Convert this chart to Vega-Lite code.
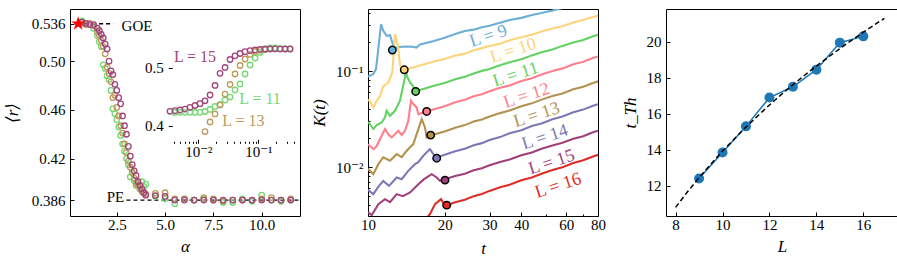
{
  "$schema": "https://vega.github.io/schema/vega-lite/v6.json",
  "background": "white",
  "padding": {"left": 2, "top": 5, "right": 4, "bottom": 2},
  "config": {
    "font": "Liberation Serif, DejaVu Serif",
    "view": {"stroke": "black", "strokeWidth": 1},
    "axis": {
      "domain": false, "grid": false, "tickColor": "black", "tickSize": -4, "tickWidth": 1,
      "labelFont": "Liberation Serif, DejaVu Serif", "labelFontSize": 15, "labelColor": "black", "labelPadding": 9,
      "labelFlush": false, "labelOverlap": false,
      "titleFont": "Liberation Serif, DejaVu Serif", "titleFontSize": 17, "titleFontWeight": "normal", "titleFontStyle": "italic", "titleColor": "black",
      "zindex": 1
    },
    "axisX": {"titlePadding": 6, "labelPadding": 5},
    "axisY": {"titlePadding": 7}
  },
  "datasets": {
    "p1": [
      {"L": "L11", "a": [0.7,0.9,1.1,1.3,1.5,1.6,1.7,1.8,1.9,2.0,2.1,2.2,2.3,2.4,2.5,2.6,2.7,2.8,2.9,3.0,3.1,3.2,3.3,3.4,3.5,3.6,3.7,3.8,3.9,4.0,4.5,5.0,5.5,6.0,6.5,7.0,7.5,8.0,8.5,9.0,9.5,10.0,10.5,11.0,11.5],
       "r": [0.533,0.531,0.530,0.527,0.521,0.516,0.512,0.497,0.494,0.488,0.485,0.476,0.461,0.457,0.452,0.446,0.439,0.432,0.426,0.420,0.415,0.405,0.408,0.402,0.398,0.400,0.396,0.401,0.397,0.399,0.389,0.387,0.383,0.387,0.386,0.387,0.386,0.384,0.384,0.387,0.385,0.390,0.386,0.385,0.386]},
      {"L": "L13", "a": [0.7,0.9,1.1,1.3,1.5,1.6,1.7,1.8,1.9,2.0,2.1,2.2,2.3,2.4,2.5,2.6,2.7,2.8,2.9,3.0,3.1,3.2,3.3,3.4,3.5,3.6,3.7,3.8,3.9,4.0,4.5,5.0,5.5,6.0,6.5,7.0,7.5,8.0,8.5,9.0,9.5,10.0,10.5,11.0,11.5],
       "r": [0.531,0.530,0.531,0.529,0.524,0.521,0.517,0.512,0.506,0.495,0.490,0.483,0.470,0.472,0.462,0.455,0.447,0.441,0.432,0.425,0.418,0.413,0.409,0.404,0.400,0.398,0.395,0.393,0.392,0.391,0.3915,0.392,0.387,0.387,0.386,0.388,0.387,0.385,0.386,0.386,0.386,0.387,0.388,0.386,0.387]},
      {"L": "L15", "a": [0.7,0.9,1.1,1.3,1.5,1.6,1.7,1.8,1.9,2.0,2.1,2.2,2.3,2.4,2.5,2.6,2.7,2.8,2.9,3.0,3.1,3.2,3.3,3.4,3.5,3.6,3.7,3.8,3.9,4.0,4.5,5.0,5.5,6.0,6.5,7.0,7.5,8.0,8.5,9.0,9.5,10.0,10.5,11.0,11.5],
       "r": [0.532,0.531,0.530,0.530,0.527,0.525,0.522,0.519,0.514,0.510,0.500,0.492,0.489,0.481,0.476,0.470,0.465,0.455,0.447,0.440,0.430,0.422,0.415,0.410,0.406,0.401,0.398,0.395,0.392,0.390,0.3897,0.389,0.386,0.386,0.386,0.386,0.386,0.386,0.386,0.386,0.386,0.386,0.386,0.386,0.386]}
    ],
    "refl": [{"a": 0.5, "a2": 2.32, "r": 0.5307}, {"a": 3.0, "a2": 11.98, "r": 0.386}],
    "reflab": [{"a": 2.75, "r": 0.5285, "label": "GOE"}, {"a": 1.98, "r": 0.3885, "label": "PE"}],
    "star": [{"a": 0.5, "r": 0.5307}],
    "p1in": [
      {"x": 0.003375, "L15": 0.4250},
      {"x": 0.004088, "L15": 0.4260, "L11": 0.4229},
      {"x": 0.004955, "L15": 0.4272, "L11": 0.4232},
      {"x": 0.006003, "L15": 0.4289, "L11": 0.4232},
      {"x": 0.007272, "L15": 0.4319, "L11": 0.4232},
      {"x": 0.00881, "L15": 0.4350, "L11": 0.4229},
      {"x": 0.01067, "L15": 0.4381, "L11": 0.4232},
      {"x": 0.01293, "L15": 0.4432, "L11": 0.4246, "L13": 0.3899},
      {"x": 0.01567, "L15": 0.4532, "L11": 0.4281, "L13": 0.4064},
      {"x": 0.01898, "L15": 0.4697, "L11": 0.4333, "L13": 0.4203},
      {"x": 0.023, "L15": 0.4908, "L11": 0.4367, "L13": 0.4359},
      {"x": 0.02786, "L15": 0.5009, "L11": 0.4445, "L13": 0.4549},
      {"x": 0.03375, "L15": 0.5147, "L11": 0.4497, "L13": 0.4714},
      {"x": 0.04088, "L15": 0.5211, "L11": 0.4619, "L13": 0.4896},
      {"x": 0.04955, "L15": 0.5251, "L11": 0.4723, "L13": 0.5043},
      {"x": 0.06003, "L15": 0.5283, "L11": 0.4896, "L13": 0.5156},
      {"x": 0.07272, "L15": 0.5300, "L11": 0.5052, "L13": 0.5234},
      {"x": 0.0881, "L15": 0.5312, "L11": 0.5173, "L13": 0.5286},
      {"x": 0.1067, "L15": 0.5324, "L11": 0.5269, "L13": 0.5308},
      {"x": 0.1293, "L15": 0.5329, "L11": 0.5321, "L13": 0.5321},
      {"x": 0.1567, "L15": 0.5329, "L11": 0.5347},
      {"x": 0.1898, "L15": 0.5330, "L11": 0.5347},
      {"x": 0.23, "L15": 0.5328, "L11": 0.5338},
      {"x": 0.2786, "L15": 0.5329, "L11": 0.5333},
      {"x": 0.3375, "L15": 0.5330, "L11": 0.5329}
    ],
    "inlab": [
      {"x": 0.0088, "r": 0.5196, "label": "L = 15", "L": "L15"},
      {"x": 0.1067, "r": 0.4463, "label": "L = 11", "L": "L11"},
      {"x": 0.0562, "r": 0.4076, "label": "L = 13", "L": "L13"}
    ],
    "curves": [
      {"L": "9", "t": [10,10.18,10.49,10.75,10.92,11.25,11.48,11.84,12.2,12.46,12.76,12.96,14,15,15.5,16,18,20,22,24,26,28,30,33,36,40,44,48,53,58,64],
       "K": [0.088,0.0893,0.0931,0.105,0.150,0.309,0.263,0.233,0.236,0.199,0.169,0.177,0.180,0.179,0.176,0.189,0.205,0.223,0.243,0.261,0.270,0.286,0.296,0.318,0.340,0.358,0.383,0.402,0.428,0.453,0.482]},
      {"L": "10", "t": [10,10.18,10.49,10.82,11.15,11.48,11.84,12.01,12.46,12.76,13.08,13.35,13.6,13.88,15,16,18,20,22,24,26,28,30,33,36,40,44,48,53,58,64,70,76,80],
       "K": [0.050,0.0491,0.0419,0.0487,0.0553,0.0698,0.0733,0.0762,0.0969,0.243,0.191,0.118,0.102,0.103,0.109,0.1146,0.125,0.1334,0.1449,0.152,0.1644,0.1734,0.1824,0.193,0.209,0.2254,0.2393,0.2585,0.278,0.293,0.320,0.342,0.363,0.377]},
      {"L": "11", "t": [10,10.18,10.49,10.82,11.32,11.66,11.84,12.2,12.76,13.35,13.97,14.1,14.19,14.62,15.0,15.39,16,18,20,22,24,26,28,30,33,36,40,44,48,53,58,64,70,76,80],
       "K": [0.0295,0.0281,0.0249,0.0274,0.0292,0.0330,0.0386,0.0342,0.0386,0.0491,0.0860,0.1094,0.0893,0.0762,0.0703,0.0614,0.0634,0.0700,0.0750,0.0824,0.0872,0.0946,0.1005,0.105,0.1152,0.1236,0.1327,0.1457,0.1567,0.1675,0.183,0.1986,0.211,0.2286,0.2388]},
      {"L": "12", "t": [10,10.18,10.49,10.8,11.32,11.66,12.1,12.39,13.15,13.56,13.97,14.39,14.75,15.06,15.53,15.76,16,17,18,20,22,24,26,28,30,33,36,40,44,48,53,58,64,70,76,80],
       "K": [0.0172,0.0166,0.0154,0.0165,0.0212,0.0249,0.0215,0.0204,0.0239,0.0216,0.0239,0.0303,0.0491,0.0453,0.0419,0.0356,0.0360,0.0380,0.0399,0.0430,0.0474,0.0504,0.0546,0.0573,0.0617,0.0670,0.0710,0.0789,0.0843,0.0920,0.1002,0.1067,0.1178,0.1253,0.1361,0.1423]},
      {"L": "13", "t": [10,10.49,10.98,11.48,12.2,12.96,13.56,14.19,15.06,15.76,16.25,16.74,17.0,17.63,18,20,22,24,26,28,30,33,36,40,44,48,53,58,64,70,76,80],
       "K": [0.0096,0.00845,0.01074,0.01262,0.01164,0.01365,0.01271,0.01479,0.01738,0.0249,0.0316,0.0259,0.0204,0.0214,0.02169,0.02344,0.02576,0.02738,0.02981,0.03126,0.03365,0.03651,0.03882,0.04305,0.04613,0.05047,0.0550,0.0585,0.0646,0.0688,0.0748,0.0782]},
      {"L": "14", "t": [10,10.49,10.95,11.48,12.09,12.96,13.56,14.39,15.29,15.76,16.44,17.5,18.05,18.61,20,22,24,26,28,30,33,36,40,44,48,53,58,64,70,76,80],
       "K": [0.0058,0.00524,0.00619,0.00719,0.00638,0.00781,0.0075,0.00915,0.01074,0.01127,0.01303,0.0154,0.01365,0.01262,0.01343,0.01462,0.01556,0.0169,0.01778,0.01914,0.02054,0.02249,0.02427,0.02679,0.02851,0.03155,0.03365,0.03724,0.03972,0.04329,0.04529]},
      {"L": "15", "t": [10,10.34,10.98,11.66,12.2,12.96,13.72,14.62,15.76,16.6,17.79,18.61,19.18,20,22,24,26,28,30,33,36,40,44,48,53,58,64,70,76,80],
       "K": [0.0034,0.00316,0.00412,0.00464,0.00432,0.00524,0.00499,0.00545,0.00665,0.0075,0.00845,0.00781,0.00719,0.00746,0.00807,0.00855,0.00929,0.00975,0.01047,0.01133,0.01202,0.0133,0.01422,0.01552,0.01683,0.01791,0.01972,0.02094,0.02298,0.02393]},
      {"L": "16", "t": [17.0,17.5,18.33,19.35,19.88,20.37,21.31,22,24,26,28,30,33,36,40,44,48,53,58,64,70,76,80],
       "K": [0.00294,0.00324,0.00412,0.00464,0.00412,0.00402,0.00419,0.00431,0.00458,0.00499,0.00525,0.00566,0.00616,0.00655,0.00729,0.00782,0.00855,0.00935,0.00998,0.01104,0.01178,0.01283,0.01343]}
    ],
    "circ": [
      {"t": 12.46, "K": 0.1655, "L": "9"}, {"t": 13.88, "K": 0.1031, "L": "10"},
      {"t": 15.39, "K": 0.0614, "L": "11"}, {"t": 17.0, "K": 0.038, "L": "12"},
      {"t": 17.63, "K": 0.02155, "L": "13"}, {"t": 18.61, "K": 0.0124, "L": "14"},
      {"t": 20.06, "K": 0.00733, "L": "15"}, {"t": 20.37, "K": 0.00402, "L": "16"}
    ],
    "klab": [
      {"t": 29.7, "K": 0.2298, "label": "L = 9", "L": "9"},
      {"t": 37.2, "K": 0.1626, "label": "L = 10", "L": "10"},
      {"t": 38.0, "K": 0.0915, "label": "L = 11", "L": "11"},
      {"t": 42.0, "K": 0.0553, "label": "L = 12", "L": "12"},
      {"t": 45.96, "K": 0.0348, "label": "L = 13", "L": "13"},
      {"t": 49.55, "K": 0.0204, "label": "L = 14", "L": "14"},
      {"t": 52.63, "K": 0.0112, "label": "L = 15", "L": "15"},
      {"t": 55.8, "K": 0.00638, "label": "L = 16", "L": "16"}
    ],
    "tth": [
      {"L": 9, "tt": 12.4}, {"L": 10, "tt": 13.85}, {"L": 11, "tt": 15.3}, {"L": 12, "tt": 16.9},
      {"L": 13, "tt": 17.5}, {"L": 14, "tt": 18.45}, {"L": 15, "tt": 19.95}, {"L": 16, "tt": 20.3}
    ],
    "fit": [
      {"L": 8, "tt": 10.8}, {"L": 8.5, "tt": 11.65}, {"L": 9, "tt": 12.45}, {"L": 9.5, "tt": 13.2},
      {"L": 10, "tt": 13.93}, {"L": 10.5, "tt": 14.6}, {"L": 11, "tt": 15.26}, {"L": 11.5, "tt": 15.88},
      {"L": 12, "tt": 16.49}, {"L": 12.5, "tt": 17.06}, {"L": 13, "tt": 17.61}, {"L": 13.5, "tt": 18.14},
      {"L": 14, "tt": 18.65}, {"L": 14.5, "tt": 19.14}, {"L": 15, "tt": 19.62}, {"L": 15.5, "tt": 20.08},
      {"L": 16, "tt": 20.53}, {"L": 16.5, "tt": 20.96}, {"L": 16.9, "tt": 21.3}
    ]
  },
  "spacing": 68,
  "bounds": "flush",
  "resolve": {"scale": {"color": "independent"}},
  "hconcat": [
    {
      "width": 230, "height": 207,
      "resolve": {"scale": {"x": "independent", "y": "independent"}},
      "layer": [
        {
          "encoding": {
            "x": {"field": "a", "type": "quantitative", "scale": {"domain": [0.08, 11.98], "nice": false, "zero": false},
                  "axis": {"title": "α", "values": [2.5, 5, 7.5, 10], "format": ".1f"}},
            "y": {"field": "r", "type": "quantitative", "scale": {"domain": [0.3729, 0.5428], "nice": false, "zero": false},
                  "axis": {"title": "⟨r⟩", "titlePadding": 10, "values": [0.386, 0.42, 0.46, 0.5, 0.5307],
                           "labelExpr": "datum.value > 0.53 ? '0.536' : datum.value < 0.39 ? '0.386' : format(datum.value, '.2f')"}}
          },
          "layer": [
            {"data": {"name": "refl"}, "mark": {"type": "rule", "strokeDash": [4, 3], "strokeWidth": 1.3, "color": "black"},
             "encoding": {"x2": {"field": "a2"}}},
            {"data": {"name": "p1"}, "transform": [{"flatten": ["a", "r"]}],
             "mark": {"type": "point", "filled": false, "size": 30, "strokeWidth": 1.3, "opacity": 1},
             "encoding": {"color": {"field": "L", "type": "nominal", "scale": {"domain": ["L11", "L13", "L15"], "range": ["#74d874", "#c09a5b", "#a3447c"]}, "legend": null}}},
            {"data": {"name": "star"},
             "mark": {"type": "point", "shape": "M0,-1L0.2245,-0.309L0.951,-0.309L0.363,0.118L0.588,0.809L0,0.382L-0.588,0.809L-0.363,0.118L-0.951,-0.309L-0.2245,-0.309Z", "filled": true, "color": "#ff0000", "size": 220, "opacity": 1}},
            {"data": {"name": "reflab"}, "mark": {"type": "text", "align": "left", "baseline": "middle", "fontSize": 15, "color": "black"},
             "encoding": {"text": {"field": "label"}}}
          ]
        },
        {
          "encoding": {
            "x": {"field": "x", "type": "quantitative", "scale": {"type": "log", "domain": [0.00316, 0.408], "range": [98.3, 225], "nice": false},
                  "axis": {"orient": "bottom", "offset": -72.7, "title": null, "labelPadding": 5,
                           "values": [0.004,0.005,0.006,0.007,0.008,0.009,0.01,0.02,0.03,0.04,0.05,0.06,0.07,0.08,0.09,0.1,0.2,0.3,0.4],
                           "labelExpr": "datum.value == 0.01 ? '10⁻²' : datum.value == 0.1 ? '10⁻¹' : ''",
                           "tickSize": {"condition": {"test": "datum.value == 0.01 || datum.value == 0.1", "value": -4}, "value": -2}}},
            "y": {"field": "r", "type": "quantitative", "scale": {"domain": [0.3695, 0.5485], "range": [134.3, 31], "nice": false, "zero": false},
                  "axis": {"orient": "left", "offset": -98.3, "title": null, "values": [0.4, 0.5], "format": ".1f"}}
          },
          "layer": [
            {"data": {"values": [{}]}, "mark": {"type": "rect", "fill": "white", "stroke": "black", "strokeWidth": 1},
             "encoding": {"x": {"datum": 0.00316, "type": "quantitative"}, "x2": {"datum": 0.408},
                          "y": {"datum": 0.3695, "type": "quantitative"}, "y2": {"datum": 0.5485}}},
            {"data": {"name": "p1in"}, "transform": [{"fold": ["L11", "L13", "L15"], "as": ["L", "r"]}],
             "mark": {"type": "point", "filled": false, "size": 30, "strokeWidth": 1.3, "opacity": 1},
             "encoding": {"color": {"field": "L", "type": "nominal", "scale": {"domain": ["L11", "L13", "L15"], "range": ["#74d874", "#c09a5b", "#a3447c"]}, "legend": null}}},
            {"data": {"name": "inlab"}, "mark": {"type": "text", "align": "center", "baseline": "middle", "fontSize": 16},
             "encoding": {"text": {"field": "label"}, "color": {"field": "L", "type": "nominal", "legend": null}}}
          ]
        }
      ]
    },
    {
      "width": 230, "height": 207,
      "encoding": {
        "x": {"field": "t", "type": "quantitative", "scale": {"type": "log", "domain": [10, 80], "nice": false},
              "axis": {"title": "t", "values": [10, 20, 30, 40, 50, 60, 70, 80],
                       "labelExpr": "datum.value == 50 || datum.value == 70 ? '' : datum.label",
                       "tickSize": {"condition": {"test": "datum.value == 50 || datum.value == 70", "value": -2}, "value": -4}}},
        "y": {"field": "K", "type": "quantitative", "scale": {"type": "log", "domain": [0.0031, 0.443], "nice": false},
              "axis": {"title": "K(t)",
                       "values": [0.004,0.005,0.006,0.007,0.008,0.009,0.01,0.02,0.03,0.04,0.05,0.06,0.07,0.08,0.09,0.1,0.2,0.3,0.4],
                       "labelExpr": "datum.value == 0.1 ? '10⁻¹' : datum.value == 0.01 ? '10⁻²' : ''",
                       "tickSize": {"condition": {"test": "datum.value == 0.01 || datum.value == 0.1", "value": -4}, "value": -2}}},
        "color": {"field": "L", "type": "nominal",
                  "scale": {"domain": ["9", "10", "11", "12", "13", "14", "15", "16"],
                            "range": ["#6baed6", "#fdd47c", "#62d262", "#ff7f8c", "#b39250", "#7b78b5", "#a0407a", "#de2d26"]},
                  "legend": null}
      },
      "layer": [
        {"data": {"name": "curves"}, "transform": [{"flatten": ["t", "K"]}],
         "mark": {"type": "line", "clip": true, "strokeWidth": 2.1}},
        {"data": {"name": "circ"}, "mark": {"type": "point", "filled": true, "size": 55, "stroke": "black", "strokeWidth": 1.5, "opacity": 1}},
        {"data": {"name": "klab"}, "mark": {"type": "text", "angle": -18, "fontSize": 18, "align": "center", "baseline": "middle"},
         "encoding": {"text": {"field": "label"}}}
      ]
    },
    {
      "width": 232, "height": 207,
      "encoding": {
        "x": {"field": "L", "type": "quantitative", "scale": {"domain": [7.59, 17.48], "nice": false, "zero": false},
              "axis": {"title": "L", "values": [8, 10, 12, 14, 16]}},
        "y": {"field": "tt", "type": "quantitative", "scale": {"domain": [10.32, 21.82], "nice": false, "zero": false},
              "axis": {"title": "t_Th", "values": [12, 14, 16, 18, 20]}}
      },
      "layer": [
        {"data": {"name": "tth"}, "mark": {"type": "line", "color": "#1f77b4", "strokeWidth": 1.5}},
        {"data": {"name": "tth"}, "mark": {"type": "point", "filled": true, "color": "#1f77b4", "size": 100, "opacity": 1}},
        {"data": {"name": "fit"}, "mark": {"type": "line", "color": "black", "strokeDash": [5, 3], "strokeWidth": 1.5}}
      ]
    }
  ]
}
